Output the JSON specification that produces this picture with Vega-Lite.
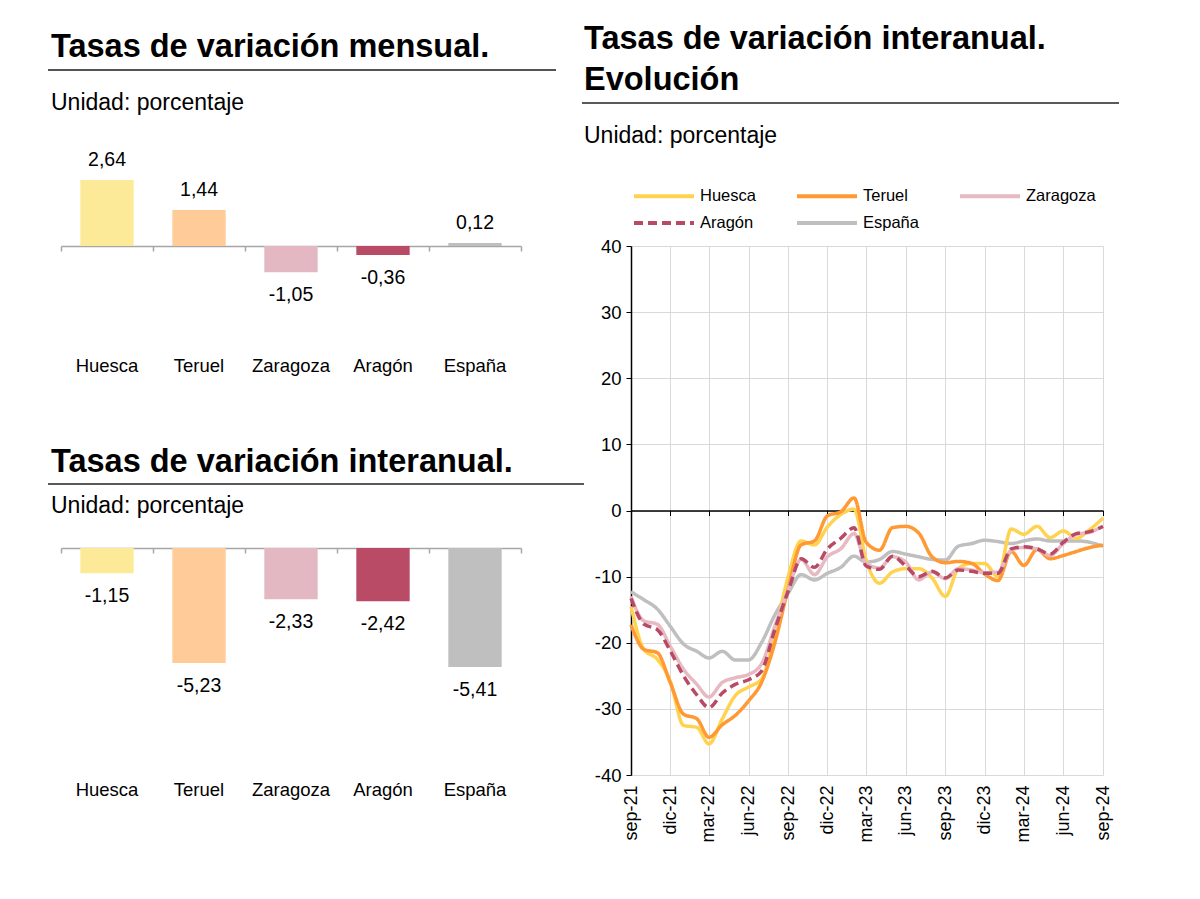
{
  "$schema": "https://vega.github.io/schema/vega-lite/v6.json",
  "padding": {"left": 47, "top": 20, "right": 5, "bottom": 5},
  "background": "white",
  "config": {
    "font": "Liberation Sans",
    "view": {"stroke": null},
    "locale": {"number": {"decimal": ",", "thousands": ".", "grouping": [3], "currency": ["", " €"], "minus": "-"}},
    "axis": {"labelColor": "black", "labelFont": "Liberation Sans"},
    "title": {"color": "black", "subtitleColor": "black", "anchor": "start", "frame": "group", "font": "Liberation Sans", "fontWeight": "bold", "subtitleFont": "Liberation Sans", "subtitleFontWeight": "normal"}
  },
  "spacing": -4,
  "resolve": {"scale": {"color": "independent", "strokeDash": "independent"}, "legend": {"color": "independent", "strokeDash": "independent"}},
  "hconcat": [
    {
      "spacing": 64,
      "bounds": "flush",
      "vconcat": [
        {
          "width": 508,
          "height": 50,
          "data": {"values": [{}]},
          "title": {"text": "Tasas de variación mensual.", "subtitle": "Unidad: porcentaje", "fontSize": 32.5, "subtitleFontSize": 23, "offset": -95, "subtitlePadding": 29, "dx": 3},
          "mark": {"type": "rule", "color": "#1a1a1a", "strokeWidth": 1.5},
          "encoding": {"y": {"datum": 0, "type": "quantitative", "scale": {"domain": [0, 1]}, "axis": null}}
        },
        {
          "width": 473,
          "height": 212,
          "data": {"values": [
            {"region": "Huesca", "valor": 2.64},
            {"region": "Teruel", "valor": 1.44},
            {"region": "Zaragoza", "valor": -1.05},
            {"region": "Aragón", "valor": -0.36},
            {"region": "España", "valor": 0.12}
          ]},
          "resolve": {"scale": {"x": "independent"}, "axis": {"x": "independent"}},
          "layer": [
            {
              "mark": {"type": "point", "opacity": 0},
              "encoding": {
                "x": {"field": "region", "type": "nominal", "sort": null, "scale": {"range": [13, 473], "paddingInner": 0, "paddingOuter": 0},
                  "axis": {"orient": "bottom", "offset": -100, "title": null, "labels": false, "domain": true, "domainColor": "#A6A6A6", "domainWidth": 1.5, "ticks": true, "tickColor": "#A6A6A6", "tickWidth": 1.5, "tickSize": 5, "tickBand": "extent", "grid": false}},
                "y": {"field": "valor", "type": "quantitative", "scale": {"domain": [-4, 4.48], "nice": false}, "axis": null}
              }
            },
            {
              "mark": {"type": "bar"},
              "encoding": {
                "x": {"field": "region", "type": "nominal", "sort": null, "scale": {"range": [13, 473], "paddingInner": 0.42, "paddingOuter": 0.21},
                  "axis": {"orient": "bottom", "title": null, "domain": false, "ticks": false, "grid": false, "labelAngle": 0, "labelFontSize": 18.5, "labelPadding": 10}},
                "y": {"field": "valor", "type": "quantitative", "scale": {"domain": [-4, 4.48], "nice": false}, "axis": null},
                "color": {"field": "region", "type": "nominal", "scale": {"domain": ["Huesca", "Teruel", "Zaragoza", "Aragón", "España"], "range": ["#FDEA98", "#FFCC99", "#E4B8C2", "#B94B67", "#BFBFBF"]}, "legend": null}
              }
            },
            {
              "transform": [{"filter": "datum.valor >= 0"}],
              "mark": {"type": "text", "dy": -20, "baseline": "middle", "fontSize": 19.5, "color": "black"},
              "encoding": {
                "x": {"field": "region", "type": "nominal", "sort": null, "scale": {"domain": ["Huesca", "Teruel", "Zaragoza", "Aragón", "España"], "range": [13, 473], "paddingInner": 0.42, "paddingOuter": 0.21}, "axis": null},
                "y": {"field": "valor", "type": "quantitative", "scale": {"domain": [-4, 4.48], "nice": false}, "axis": null},
                "text": {"field": "valor", "type": "quantitative", "format": ".2f"}
              }
            },
            {
              "transform": [{"filter": "datum.valor < 0"}],
              "mark": {"type": "text", "dy": 23, "baseline": "middle", "fontSize": 19.5, "color": "black"},
              "encoding": {
                "x": {"field": "region", "type": "nominal", "sort": null, "scale": {"domain": ["Huesca", "Teruel", "Zaragoza", "Aragón", "España"], "range": [13, 473], "paddingInner": 0.42, "paddingOuter": 0.21}, "axis": null},
                "y": {"field": "valor", "type": "quantitative", "scale": {"domain": [-4, 4.48], "nice": false}, "axis": null},
                "text": {"field": "valor", "type": "quantitative", "format": ".2f"}
              }
            }
          ]
        },
        {
          "width": 536,
          "height": 74,
          "data": {"values": [{}]},
          "title": {"text": "Tasas de variación interanual.", "subtitle": "Unidad: porcentaje", "fontSize": 32.5, "subtitleFontSize": 23, "offset": -108, "subtitlePadding": 17, "dx": 3},
          "mark": {"type": "rule", "color": "#595959", "strokeWidth": 2},
          "encoding": {"y": {"datum": 0, "type": "quantitative", "scale": {"domain": [0, 1]}, "axis": null}}
        },
        {
          "width": 473,
          "height": 220,
          "data": {"values": [
            {"region": "Huesca", "valor": -1.15},
            {"region": "Teruel", "valor": -5.23},
            {"region": "Zaragoza", "valor": -2.33},
            {"region": "Aragón", "valor": -2.42},
            {"region": "España", "valor": -5.41}
          ]},
          "resolve": {"scale": {"x": "independent"}, "axis": {"x": "independent"}},
          "layer": [
            {
              "mark": {"type": "point", "opacity": 0},
              "encoding": {
                "x": {"field": "region", "type": "nominal", "sort": null, "scale": {"range": [13, 473], "paddingInner": 0, "paddingOuter": 0},
                  "axis": {"orient": "bottom", "offset": -220, "title": null, "labels": false, "domain": true, "domainColor": "#A6A6A6", "domainWidth": 1.5, "ticks": true, "tickColor": "#A6A6A6", "tickWidth": 1.5, "tickSize": 5, "tickBand": "extent", "grid": false}},
                "y": {"field": "valor", "type": "quantitative", "scale": {"domain": [-10, 0], "nice": false}, "axis": null}
              }
            },
            {
              "mark": {"type": "bar"},
              "encoding": {
                "x": {"field": "region", "type": "nominal", "sort": null, "scale": {"range": [13, 473], "paddingInner": 0.42, "paddingOuter": 0.21},
                  "axis": {"orient": "bottom", "title": null, "domain": false, "ticks": false, "grid": false, "labelAngle": 0, "labelFontSize": 18.5, "labelPadding": 12}},
                "y": {"field": "valor", "type": "quantitative", "scale": {"domain": [-10, 0], "nice": false}, "axis": null},
                "color": {"field": "region", "type": "nominal", "scale": {"domain": ["Huesca", "Teruel", "Zaragoza", "Aragón", "España"], "range": ["#FDEA98", "#FFCC99", "#E4B8C2", "#B94B67", "#BFBFBF"]}, "legend": null}
              }
            },
            {
              "mark": {"type": "text", "dy": 23, "baseline": "middle", "fontSize": 19.5, "color": "black"},
              "encoding": {
                "x": {"field": "region", "type": "nominal", "sort": null, "scale": {"range": [13, 473], "paddingInner": 0.42, "paddingOuter": 0.21}, "axis": null},
                "y": {"field": "valor", "type": "quantitative", "scale": {"domain": [-10, 0], "nice": false}, "axis": null},
                "text": {"field": "valor", "type": "quantitative", "format": ".2f"}
              }
            }
          ]
        }
      ]
    },
    {
      "spacing": 143,
      "bounds": "flush",
      "resolve": {"scale": {"color": "independent", "strokeDash": "independent"}, "legend": {"color": "independent", "strokeDash": "independent"}},
      "vconcat": [
        {
          "width": 472,
          "height": 83,
          "data": {"values": [{}]},
          "title": {"text": ["Tasas de variación interanual.", "Evolución"], "subtitle": "Unidad: porcentaje", "fontSize": 32.5, "lineHeight": 41, "subtitleFontSize": 23, "offset": -128, "subtitlePadding": 29, "dx": -47},
          "mark": {"type": "rule", "color": "#595959", "strokeWidth": 2},
          "encoding": {
            "x": {"datum": 0, "type": "quantitative", "scale": {"domain": [0, 1], "range": [-49, 488]}, "axis": null},
            "x2": {"datum": 1},
            "y": {"datum": 0, "type": "quantitative", "scale": {"domain": [0, 1]}, "axis": null}
          }
        },
        {
          "width": 472,
          "height": 529,
          "data": {"values": [
            {"fecha": "2021-09-01", "Huesca": -14.5, "Teruel": -17.3, "Zaragoza": -13.0, "Aragón": -13.3, "España": -12.3},
            {"fecha": "2021-10-01", "Huesca": -21.0, "Teruel": -21.0, "Zaragoza": -16.7, "Aragón": -17.2, "España": -13.5},
            {"fecha": "2021-11-01", "Huesca": -22.5, "Teruel": -21.5, "Zaragoza": -17.2, "Aragón": -18.0, "España": -14.9},
            {"fecha": "2021-12-01", "Huesca": -25.8, "Teruel": -26.0, "Zaragoza": -20.5, "Aragón": -21.2, "España": -17.5},
            {"fecha": "2022-01-01", "Huesca": -32.5, "Teruel": -30.8, "Zaragoza": -24.0, "Aragón": -25.0, "España": -20.2},
            {"fecha": "2022-02-01", "Huesca": -32.8, "Teruel": -31.5, "Zaragoza": -26.3, "Aragón": -27.9, "España": -21.3},
            {"fecha": "2022-03-01", "Huesca": -35.3, "Teruel": -34.3, "Zaragoza": -28.2, "Aragón": -29.8, "España": -22.3},
            {"fecha": "2022-04-01", "Huesca": -31.5, "Teruel": -32.4, "Zaragoza": -26.0, "Aragón": -27.6, "España": -21.3},
            {"fecha": "2022-05-01", "Huesca": -28.0, "Teruel": -31.0, "Zaragoza": -25.3, "Aragón": -26.3, "España": -22.6},
            {"fecha": "2022-06-01", "Huesca": -26.7, "Teruel": -28.8, "Zaragoza": -24.8, "Aragón": -25.6, "España": -22.6},
            {"fecha": "2022-07-01", "Huesca": -25.5, "Teruel": -26.0, "Zaragoza": -23.2, "Aragón": -24.3, "España": -20.0},
            {"fecha": "2022-08-01", "Huesca": -18.5, "Teruel": -20.0, "Zaragoza": -17.5, "Aragón": -18.0, "España": -15.8},
            {"fecha": "2022-09-01", "Huesca": -10.0, "Teruel": -11.8, "Zaragoza": -12.0, "Aragón": -12.2, "España": -12.5},
            {"fecha": "2022-10-01", "Huesca": -4.6, "Teruel": -5.2, "Zaragoza": -7.4, "Aragón": -7.3, "España": -9.7},
            {"fecha": "2022-11-01", "Huesca": -5.2, "Teruel": -4.6, "Zaragoza": -9.7, "Aragón": -8.6, "España": -10.5},
            {"fecha": "2022-12-01", "Huesca": -2.5, "Teruel": -0.8, "Zaragoza": -7.0, "Aragón": -5.8, "España": -9.5},
            {"fecha": "2023-01-01", "Huesca": -0.6, "Teruel": -0.2, "Zaragoza": -5.8, "Aragón": -4.2, "España": -8.6},
            {"fecha": "2023-02-01", "Huesca": 0.2, "Teruel": 1.9, "Zaragoza": -3.5, "Aragón": -2.6, "España": -6.9},
            {"fecha": "2023-03-01", "Huesca": -7.5, "Teruel": -4.8, "Zaragoza": -8.0, "Aragón": -8.4, "España": -7.8},
            {"fecha": "2023-04-01", "Huesca": -11.0, "Teruel": -6.0, "Zaragoza": -8.7, "Aragón": -8.9, "España": -7.4},
            {"fecha": "2023-05-01", "Huesca": -9.3, "Teruel": -2.6, "Zaragoza": -7.0, "Aragón": -6.9, "España": -6.2},
            {"fecha": "2023-06-01", "Huesca": -8.8, "Teruel": -2.4, "Zaragoza": -7.8, "Aragón": -8.4, "España": -6.6},
            {"fecha": "2023-07-01", "Huesca": -8.8, "Teruel": -3.4, "Zaragoza": -10.5, "Aragón": -10.0, "España": -7.0},
            {"fecha": "2023-08-01", "Huesca": -10.2, "Teruel": -7.0, "Zaragoza": -9.3, "Aragón": -9.2, "España": -7.4},
            {"fecha": "2023-09-01", "Huesca": -13.0, "Teruel": -7.9, "Zaragoza": -10.3, "Aragón": -10.2, "España": -7.5},
            {"fecha": "2023-10-01", "Huesca": -8.8, "Teruel": -7.7, "Zaragoza": -8.8, "Aragón": -9.0, "España": -5.4},
            {"fecha": "2023-11-01", "Huesca": -8.0, "Teruel": -8.0, "Zaragoza": -9.0, "Aragón": -9.2, "España": -5.0},
            {"fecha": "2023-12-01", "Huesca": -8.0, "Teruel": -9.6, "Zaragoza": -9.4, "Aragón": -9.5, "España": -4.5},
            {"fecha": "2024-01-01", "Huesca": -10.0, "Teruel": -10.6, "Zaragoza": -9.3, "Aragón": -9.5, "España": -4.7},
            {"fecha": "2024-02-01", "Huesca": -2.8, "Teruel": -6.2, "Zaragoza": -6.0, "Aragón": -5.8, "España": -5.0},
            {"fecha": "2024-03-01", "Huesca": -3.6, "Teruel": -8.3, "Zaragoza": -5.6, "Aragón": -5.5, "España": -4.6},
            {"fecha": "2024-04-01", "Huesca": -2.4, "Teruel": -5.9, "Zaragoza": -5.8, "Aragón": -5.8, "España": -4.3},
            {"fecha": "2024-05-01", "Huesca": -4.1, "Teruel": -7.3, "Zaragoza": -6.8, "Aragón": -6.6, "España": -4.6},
            {"fecha": "2024-06-01", "Huesca": -3.1, "Teruel": -6.8, "Zaragoza": -5.0, "Aragón": -4.8, "España": -4.6},
            {"fecha": "2024-07-01", "Huesca": -4.2, "Teruel": -6.2, "Zaragoza": -3.6, "Aragón": -3.5, "España": -4.6},
            {"fecha": "2024-08-01", "Huesca": -2.9, "Teruel": -5.6, "Zaragoza": -3.3, "Aragón": -3.2, "España": -4.8},
            {"fecha": "2024-09-01", "Huesca": -1.15, "Teruel": -5.23, "Zaragoza": -2.33, "Aragón": -2.42, "España": -5.41}
          ]},
          "transform": [{"fold": ["España", "Huesca", "Teruel", "Zaragoza", "Aragón"], "as": ["serie", "valor"]}],
          "resolve": {"axis": {"x": "independent"}},
          "layer": [
            {
              "mark": {"type": "line", "strokeWidth": 3.5, "interpolate": "monotone"},
              "encoding": {
                "x": {"field": "fecha", "type": "temporal",
                  "scale": {"type": "utc", "nice": false, "domain": [{"year": 2021, "month": 9, "date": 1, "utc": true}, {"year": 2024, "month": 9, "date": 1, "utc": true}]},
                  "axis": {"orient": "bottom", "title": null, "domain": false, "ticks": false, "grid": true, "gridColor": "#D9D9D9", "gridWidth": 1,
                    "values": [
                      {"year": 2021, "month": 9, "date": 1, "utc": true}, {"year": 2021, "month": 12, "date": 1, "utc": true},
                      {"year": 2022, "month": 3, "date": 1, "utc": true}, {"year": 2022, "month": 6, "date": 1, "utc": true},
                      {"year": 2022, "month": 9, "date": 1, "utc": true}, {"year": 2022, "month": 12, "date": 1, "utc": true},
                      {"year": 2023, "month": 3, "date": 1, "utc": true}, {"year": 2023, "month": 6, "date": 1, "utc": true},
                      {"year": 2023, "month": 9, "date": 1, "utc": true}, {"year": 2023, "month": 12, "date": 1, "utc": true},
                      {"year": 2024, "month": 3, "date": 1, "utc": true}, {"year": 2024, "month": 6, "date": 1, "utc": true},
                      {"year": 2024, "month": 9, "date": 1, "utc": true}
                    ],
                    "labelExpr": "['ene','feb','mar','abr','may','jun','jul','ago','sep','oct','nov','dic'][utcmonth(datum.value)] + '-' + utcFormat(datum.value, '%y')",
                    "labelAngle": -90, "labelFontSize": 18, "labelPadding": 10}},
                "y": {"field": "valor", "type": "quantitative", "scale": {"domain": [-40, 40], "nice": false},
                  "axis": {"title": null, "values": [-40, -30, -20, -10, 0, 10, 20, 30, 40], "domain": true, "domainColor": "black", "domainWidth": 1.5, "ticks": true, "tickColor": "black", "tickSize": 5, "labelFontSize": 18.5, "labelPadding": 5, "grid": true, "gridColor": "#D9D9D9", "gridWidth": 1}},
                "color": {"field": "serie", "type": "nominal",
                  "scale": {"domain": ["Huesca", "Teruel", "Zaragoza", "Aragón", "España"], "range": ["#FFD34F", "#FF9933", "#E6B9C3", "#B94A66", "#BFBFBF"]},
                  "legend": {"orient": "none", "legendX": 16, "legendY": -67, "direction": "horizontal", "columns": 3, "gridAlign": "all", "symbolType": "M-2,0H2", "symbolSize": 900, "symbolStrokeWidth": 4, "labelFontSize": 16.5, "labelColor": "black", "labelFont": "Liberation Sans", "columnPadding": 19, "rowPadding": 1, "title": null, "labelOffset": 19, "padding": 0}},
                "strokeDash": {"field": "serie", "type": "nominal",
                  "scale": {"domain": ["Huesca", "Teruel", "Zaragoza", "Aragón", "España"], "range": [[1, 0], [1, 0], [1, 0], [9, 5], [1, 0]]},
                  "legend": {"orient": "none", "legendX": 16, "legendY": -67, "direction": "horizontal", "columns": 3, "gridAlign": "all", "symbolType": "M-2,0H2", "symbolSize": 900, "symbolStrokeWidth": 4, "labelFontSize": 16.5, "labelColor": "black", "labelFont": "Liberation Sans", "columnPadding": 19, "rowPadding": 1, "title": null, "labelOffset": 19, "padding": 0}}
              }
            },
            {
              "mark": {"type": "point", "opacity": 0},
              "encoding": {
                "x": {"field": "fecha", "type": "temporal",
                  "scale": {"type": "utc", "nice": false, "domain": [{"year": 2021, "month": 9, "date": 1, "utc": true}, {"year": 2024, "month": 9, "date": 1, "utc": true}]},
                  "axis": {"orient": "bottom", "offset": -264.5, "title": null, "labels": false, "domain": true, "domainColor": "black", "domainWidth": 1.5, "ticks": true, "tickColor": "black", "tickSize": 5, "grid": false,
                    "values": [
                      {"year": 2021, "month": 9, "date": 1, "utc": true}, {"year": 2021, "month": 12, "date": 1, "utc": true},
                      {"year": 2022, "month": 3, "date": 1, "utc": true}, {"year": 2022, "month": 6, "date": 1, "utc": true},
                      {"year": 2022, "month": 9, "date": 1, "utc": true}, {"year": 2022, "month": 12, "date": 1, "utc": true},
                      {"year": 2023, "month": 3, "date": 1, "utc": true}, {"year": 2023, "month": 6, "date": 1, "utc": true},
                      {"year": 2023, "month": 9, "date": 1, "utc": true}, {"year": 2023, "month": 12, "date": 1, "utc": true},
                      {"year": 2024, "month": 3, "date": 1, "utc": true}, {"year": 2024, "month": 6, "date": 1, "utc": true},
                      {"year": 2024, "month": 9, "date": 1, "utc": true}
                    ]}},
                "y": {"field": "valor", "type": "quantitative", "scale": {"domain": [-40, 40], "nice": false},
                  "axis": {"title": null, "values": [-40, -30, -20, -10, 0, 10, 20, 30, 40], "domain": true, "domainColor": "black", "domainWidth": 1.5, "ticks": true, "tickColor": "black", "tickSize": 5, "labelFontSize": 18.5, "labelPadding": 5, "grid": true, "gridColor": "#D9D9D9", "gridWidth": 1}}
              }
            }
          ]
        }
      ]
    }
  ]
}
